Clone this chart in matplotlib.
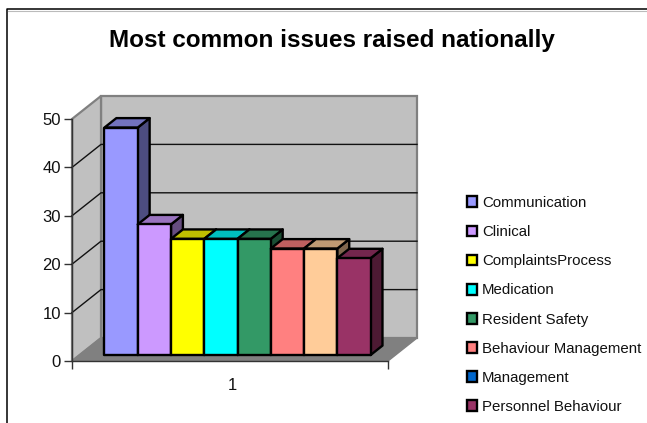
import matplotlib
matplotlib.use('Agg')
import matplotlib.pyplot as plt
from matplotlib.lines import Line2D
from matplotlib.patches import Polygon, Patch

plt.rcParams['font.family'] = ['Liberation Sans', 'DejaVu Sans']

title = "Most common issues raised nationally"
issues = ["Communication", "Clinical", "ComplaintsProcess", "Medication",
          "Resident Safety", "Behaviour Management", "Management", "Personnel Behaviour"]
counts = [47, 27, 24, 24, 24, 22, 22, 20]
bar_colors = ["#9999FF", "#CC99FF", "#FFFF00", "#00FFFF",
              "#339966", "#FF8080", "#FFCC99", "#993366"]
legend_colors = ["#9999FF", "#CC99FF", "#FFFF00", "#00FFFF",
                 "#339966", "#FF8080", "#0066CC", "#993366"]
y_ticks = [0, 10, 20, 30, 40, 50]

W, H = 647, 423
# depth of the floor in axes units (3d look is only an oblique shift)
DX = 29 / 316
DY = 23 / 242 * 50
GAP = 0.75


def shade(color, k):
    r, g, b = matplotlib.colors.to_rgb(color)
    return (r * k, g * k, b * k)


def at(x, y, d):
    return (x + d * DX, y + d * DY)


fig = plt.figure(figsize=(W / 100, H / 100), dpi=100)
ax = fig.add_axes([72 / W, 1 - 361 / H, 316 / W, 242 / H])
ax.set_xlim(0, 1)
ax.set_ylim(0, 50)
ax.patch.set_visible(False)

# walls and floor
wall = dict(facecolor="#C0C0C0", edgecolor="#808080", linewidth=1.6, clip_on=False, zorder=1)
ax.add_patch(Polygon([at(0, 0, 1), at(1, 0, 1), at(1, 50, 1), at(0, 50, 1)], **wall))
ax.add_patch(Polygon([at(0, 0, 0), at(0, 0, 1), at(0, 50, 1), at(0, 50, 0)], **wall))
ax.add_patch(Polygon([at(0, 0, 0), at(1, 0, 0), at(1, 0, 1), at(0, 0, 1)],
                     facecolor="#808080", edgecolor="#808080", linewidth=1, clip_on=False, zorder=1))

# gridlines, on side wall and back wall
for v in y_ticks[1:-1]:
    xs, ys = zip(at(0, v, 0), at(0, v, 1), at(1, v, 1))
    ax.plot(xs, ys, color="#111111", lw=1, clip_on=False, zorder=2)

# bars, drawn left to right so each covers the side of the one before
n = len(counts)
bw = 1 / (n + 2 * GAP)
d0, d1 = 0.26, 0.67
for i, (v, c) in enumerate(zip(counts, bar_colors)):
    x0 = (GAP + i) * bw
    x1 = x0 + bw
    style = dict(edgecolor="black", linewidth=1.7, joinstyle="round", clip_on=False, zorder=3 + i * 0.1)
    ax.add_patch(Polygon([at(x1, 0, d0), at(x1, 0, d1), at(x1, v, d1), at(x1, v, d0)],
                         facecolor=shade(c, 0.5), **style))
    ax.add_patch(Polygon([at(x0, v, d0), at(x1, v, d0), at(x1, v, d1), at(x0, v, d1)],
                         facecolor=shade(c, 0.75), **style))
    ax.add_patch(Polygon([at(x0, 0, d0), at(x1, 0, d0), at(x1, v, d0), at(x0, v, d0)],
                         facecolor=c, **style))

# axes
for side in ("top", "right"):
    ax.spines[side].set_visible(False)
for side in ("left", "bottom"):
    ax.spines[side].set_color("#333333")
    ax.spines[side].set_linewidth(1)
    ax.spines[side].set_zorder(6)
ax.set_yticks(y_ticks)
ax.set_xticks([0, 1])
ax.set_xticklabels(["", ""])
ax.set_xticks([0.507], labels=["1"], minor=True)
ax.tick_params(axis="both", which="major", length=6, width=1, color="#333333")
ax.tick_params(axis="x", which="minor", length=0, pad=12)
ax.tick_params(axis="y", labelsize=12, pad=2, labelcolor="#111111")
ax.tick_params(axis="x", which="minor", labelsize=12, labelcolor="#111111")

fig.text(332 / W, 1 - 40 / H, title, ha="center", va="center", fontsize=17.5, fontweight="bold", color="black")

handles = [Patch(facecolor=c, edgecolor="black", linewidth=1.7) for c in legend_colors]
fig.legend(handles, issues, loc="center left", bbox_to_anchor=(466.5 / W, 1 - 305 / H), frameon=False,
           fontsize=10.8, handlelength=0.72, handleheight=0.72, handletextpad=0.3,
           labelspacing=1.01, borderpad=0, borderaxespad=0, labelcolor="#111111")

# chart frame, only the top and left edges are in the picture
fig.add_artist(Line2D([7 / W, 7 / W, 1], [0, 1 - 9.5 / H, 1 - 9.5 / H], transform=fig.transFigure,
                      color="black", lw=1.1))
fig.add_artist(Line2D([8 / W, 1], [1 - 11 / H, 1 - 11 / H], transform=fig.transFigure,
                      color="#BBBBBB", lw=0.8))

fig.savefig("out.png", dpi=100)
